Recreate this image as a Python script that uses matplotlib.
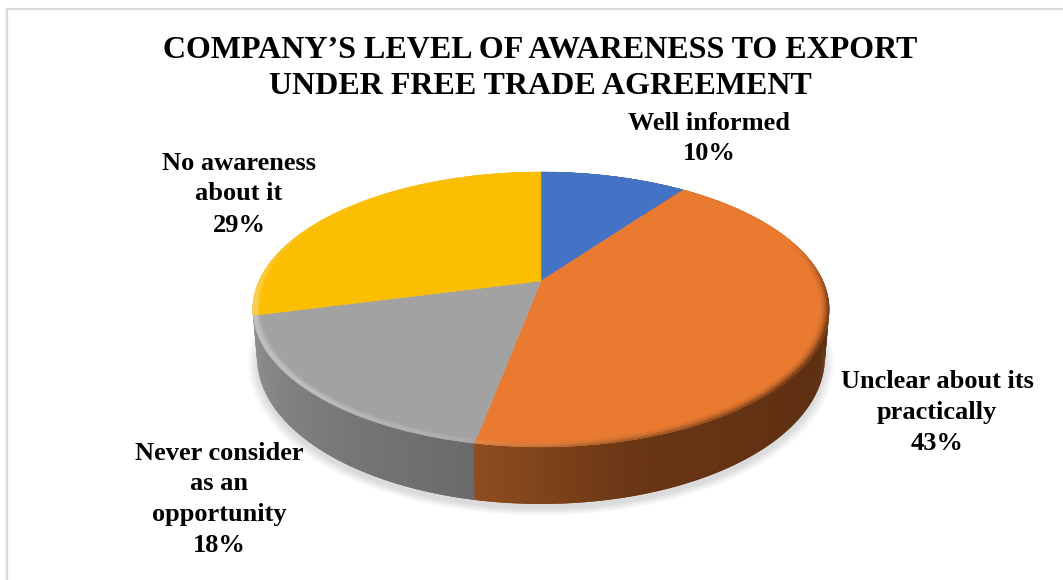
import numpy as np
import matplotlib
matplotlib.use("Agg")
import matplotlib.pyplot as plt
from matplotlib.collections import PolyCollection
from matplotlib.colors import to_rgb

plt.rcParams["font.family"] = ["Liberation Serif", "DejaVu Serif"]

# Survey shares, clockwise from twelve o'clock
categories = ["Well informed", "Unclear about its practically",
              "Never consider as an opportunity", "No awareness about it"]
shares = [10, 43, 18, 29]
label_lines = [["Well informed"], ["Unclear about its", "practically"],
               ["Never consider", "as an", "opportunity"], ["No awareness", "about it"]]
label_anchor = [(709, 123), (937, 381), (219, 453), (239, 163)]
face_colors = ["#4472C4", "#E97A30", "#A2A2A2", "#FBBE00"]
title_lines = ["COMPANY\u2019S LEVEL OF AWARENESS TO EXPORT", "UNDER FREE TRADE AGREEMENT"]

# Perspective of the disc, in pixels
CX, CY, RX, RY, PERSP = 541.0, 281.0, 282.0, 131.6, 0.207
DEPTH_MID, DEPTH_SLOPE, BASE_SCALE = 45.0, 12.0, 0.985


def project(radius, theta):
    u, v = radius * np.sin(theta), radius * np.cos(theta)
    w = 1 + PERSP * v
    return CX + RX * u / w, CY - RY * v / w


def base_point(radius, theta):
    x, y = project(radius, theta)
    v = radius * np.cos(theta)
    return CX + (x - CX) * BASE_SCALE, y + DEPTH_MID - DEPTH_SLOPE * v


def mix(a, b, t):
    return tuple(np.array(a) * (1 - t) + np.array(b) * t)


fig = plt.figure(figsize=(10.63, 5.80), dpi=100, facecolor="white")
ax = fig.add_axes([0, 0, 1, 1])
ax.set_xlim(0, 1063)
ax.set_ylim(580, 0)
ax.axis("off")

# Thin frame around the chart area
ax.plot([7, 7, 1063], [580, 9, 9], color="#DADADA", lw=1.6, solid_joinstyle="miter", zorder=1)

fractions = np.cumsum([0] + shares) / sum(shares)
angles = fractions * 2 * np.pi

# Soft drop shadow under the disc
full = np.linspace(0, 2 * np.pi, 361)
for grow in np.linspace(1.03, 1.0, 9):
    bx, by = base_point(grow, full)
    ax.fill(bx, by + 5, color="black", alpha=0.014, lw=0, zorder=2)

# Side wall: shade per angle (degrees clockwise from the top)
shade_deg = [0, 60, 120, 165, 190.8, 190.81, 215, 240, 262, 360]
shade_col = ["#5E2F11", "#5E2F11", "#5E2F11", "#6A3615", "#8F4D20",
             "#6A6A6A", "#777777", "#868686", "#8E8E8E", "#8E8E8E"]
shade_rgb = np.array([to_rgb(c) for c in shade_col])

ths = np.linspace(0, 2 * np.pi, 721)
step = ths[1] - ths[0]
quads, cols = [], []
# Each quad overlaps the next one so no seams appear between them
for a in ths[:-1]:
    deg = np.degrees(a + step / 2)
    if deg > 262:
        continue
    pair = np.array([a, a + 2 * step])
    x0, y0 = project(1, pair)
    x1, y1 = base_point(1, pair)
    quads.append([(x0[0], y0[0]), (x0[1], y0[1]), (x1[1], y1[1]), (x1[0], y1[0])])
    cols.append([np.interp(deg, shade_deg, shade_rgb[:, i]) for i in range(3)])
ax.add_collection(PolyCollection(quads, facecolors=cols, edgecolors="none", zorder=3))

# Flat top face, one wedge per share
RIM = 0.965
for start, end, color in zip(angles[:-1], angles[1:], face_colors):
    t = np.linspace(start, end, 200)
    x, y = project(1.0, t)
    ax.fill(np.r_[CX, x], np.r_[CY, y], color=color, lw=0.3, zorder=4)

# Bevel along the front rim: a light band on the left, darkening on the right
light_deg = [0, 150, 190, 225, 262, 285, 360]
light_amt = [0, 0.02, 0.15, 0.36, 0.36, 0.1, 0]
dark_deg = [0, 72, 100, 130, 175, 195, 360]
dark_amt = [0, 0, 0.95, 0.95, 0.5, 0.08, 0]

radii = np.linspace(RIM, 1.0, 9)
quads, cols = [], []
for r0, r1 in zip(radii[:-1], radii[1:]):
    t_r = ((r0 + r1) / 2 - RIM) / (1 - RIM)
    bump = np.exp(-((t_r - 0.8) / 0.35) ** 2)
    for a in ths[:-1]:
        mid = a + step / 2
        deg = np.degrees(mid)
        k = min(np.searchsorted(angles, mid) - 1, len(shares) - 1)
        face = to_rgb(face_colors[k])
        c = mix(face, (1, 1, 1), np.interp(deg, light_deg, light_amt) * bump)
        side = [np.interp(deg, shade_deg, shade_rgb[:, i]) for i in range(3)]
        c = mix(c, side, np.interp(deg, dark_deg, dark_amt) * t_r ** 2)
        pair = np.array([a, min(a + 2 * step, angles[k + 1])])
        xa, ya = project(r0, pair)
        xb, yb = project(r1, pair)
        quads.append([(xa[0], ya[0]), (xa[1], ya[1]), (xb[1], yb[1]), (xb[0], yb[0])])
        cols.append(c)
ax.add_collection(PolyCollection(quads, facecolors=cols, edgecolors="none", zorder=5))

# Title and category labels
for line, ypos in zip(title_lines, [50, 86]):
    ax.text(540, ypos, line, ha="center", va="center", fontsize=23,
            fontweight="bold", color="black", zorder=6)

for lines, value, (lx, ly) in zip(label_lines, shares, label_anchor):
    for i, line in enumerate(lines + [f"{value}%"]):
        ax.text(lx, ly + i * 31, line, ha="center", va="center", fontsize=19,
                fontweight="bold", color="black", zorder=6)

fig.savefig("out.png", dpi=100, facecolor="white")
